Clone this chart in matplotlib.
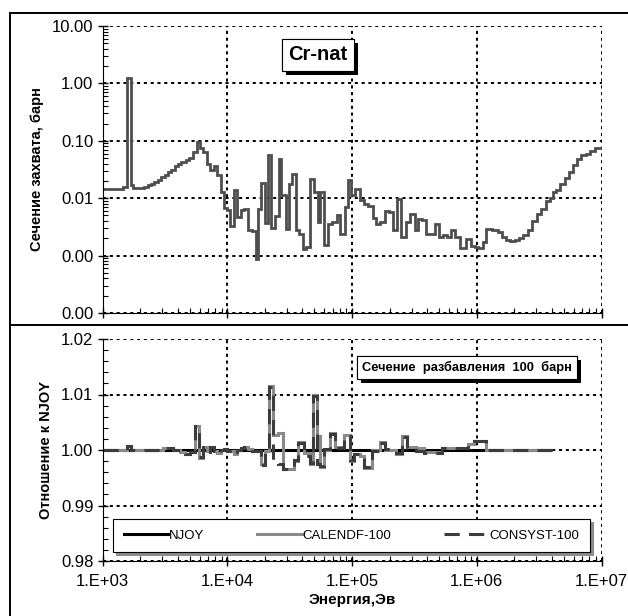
import numpy as np
import matplotlib
matplotlib.use("Agg")
import matplotlib.pyplot as plt
import matplotlib.patheffects as pe
from matplotlib.lines import Line2D
from matplotlib.patches import Rectangle
from matplotlib.ticker import FuncFormatter, LogLocator, MultipleLocator, NullFormatter

plt.rcParams['font.family'] = ['Liberation Sans', 'DejaVu Sans']

# capture cross-section, group structure (edges in eV) and group values (barn)
cs_edges = [1000, 1470, 1560, 1680, 1760, 2150, 2310, 2460, 2610, 2780, 2960, 3150, 3340,
            3560, 3780, 4030, 4280, 4630, 4930, 5340, 5680, 6040, 6420, 6830, 7260, 7820,
            8320, 8850, 9400, 10000, 10600, 11300, 11900, 12800, 13600, 14700, 15900,
            16900, 17600, 18800, 20000, 21200, 22600, 24000, 26000, 27200, 29400, 31300,
            33300, 35400, 37600, 40500, 43100, 46400, 49300, 53400, 55800, 59300, 64300,
            69600, 75900, 80700, 87400, 93000, 98900, 105000, 115000, 124000, 135000,
            146000, 157000, 169000, 183000, 198000, 213000, 230000, 249000, 269000, 294000,
            318000, 338000, 366000, 390000, 460000, 499000, 537000, 577000, 625000, 664000,
            729000, 824000, 904000, 962000, 1020000, 1120000, 1190000, 1330000, 1480000,
            1600000, 1730000, 1860000, 2010000, 2180000, 2370000, 2570000, 2790000, 3040000,
            3290000, 3560000, 3840000, 4080000, 4340000, 4670000, 5060000, 5480000, 5900000,
            6350000, 6880000, 7550000, 8130000, 8810000, 10000000]
cs_values = [0.0143, 0.0155, 1.25, 0.0173, 0.0151, 0.0157, 0.0168, 0.0180, 0.0192, 0.0208,
             0.0235, 0.0258, 0.0283, 0.0315, 0.0365, 0.0401, 0.0424, 0.0459, 0.0504, 0.0642,
             0.0957, 0.0764, 0.0642, 0.0391, 0.0307, 0.0370, 0.0258, 0.0129, 0.00676, 0.00615,
             0.00323, 0.0141, 0.00471, 0.00632, 0.00658, 0.00283, 0.00268, 0.00088, 0.00658,
             0.0184, 0.0037, 0.0561, 0.00306, 0.00483, 0.0491, 0.0112, 0.00294, 0.0180, 0.0268,
             0.00283, 0.00241, 0.00132, 0.00141, 0.0220, 0.0129, 0.00385, 0.0129, 0.00155,
             0.0036, 0.00385, 0.00503, 0.00234, 0.00703, 0.0205, 0.0112, 0.0147, 0.00919,
             0.00783, 0.00723, 0.00452, 0.0036, 0.00385, 0.00599, 0.00575, 0.00275, 0.00984,
             0.0021, 0.00385, 0.00538, 0.00275, 0.00441, 0.00411, 0.00241, 0.00351, 0.0021,
             0.00225, 0.0021, 0.00275, 0.0021, 0.00137, 0.00197, 0.00145, 0.00141, 0.00135,
             0.00172, 0.00294, 0.00283, 0.00257, 0.0021, 0.00189, 0.00177, 0.00189, 0.00202,
             0.00225, 0.00275, 0.00395, 0.00524, 0.00658, 0.00883, 0.0102, 0.0129, 0.0141,
             0.0180, 0.0229, 0.0287, 0.0375, 0.0491, 0.0561, 0.060, 0.0659, 0.0764]

# ratio to NJOY, sigma0 = 100 barn
ratio_edges = [1000, 1560, 1680, 3070, 3700, 4200, 4600, 5000, 5500, 5970, 6420, 6830, 7260,
               7820, 8320, 8850, 9400, 10000, 11300, 11900, 12800, 13600, 14700, 15900,
               18800, 20000, 21600, 23200, 25600, 28100, 34300, 37000, 41300, 46100, 48600,
               52200, 55400, 59700, 66700, 73400, 86400, 96600, 104000, 116000, 125000,
               145000, 168000, 183000, 226000, 252000, 277000, 326000, 378000, 527000,
               851000, 951000, 1190000, 4020000]
njoy_ratio = [1.0] * (len(ratio_edges) - 1)
calendf_ratio = [1.0, 1.0007, 1.0, 1.0004, 1.0, 0.9997, 0.9993, 0.9997, 1.0044, 0.9986, 1.0006,
                 0.9998, 1.0006, 0.9998, 0.9994, 1.0, 1.0002, 0.9998, 0.9993, 1.0, 1.0004,
                 1.0006, 1.0002, 0.9998, 0.9975, 0.9998, 1.0115, 1.0027, 1.0031, 0.9965,
                 0.998, 1.0015, 0.9995, 0.9975, 1.0100, 1.0025, 0.9970, 1.0, 1.0030, 1.0005,
                 1.0027, 0.998, 0.9993, 0.9990, 0.9968, 1.0, 1.0015, 1.0, 0.9993, 1.0025,
                 1.0005, 1.0003, 0.9996, 1.0004, 1.0010, 1.0017, 1.0]
consyst_ratio = [1.0, 1.0007, 1.0, 1.0004, 1.0, 0.9997, 0.9993, 0.9997, 1.0044, 0.9988, 1.0006,
                 0.9997, 1.0005, 0.9998, 0.9995, 1.0, 1.0002, 0.9998, 0.9993, 1.0, 1.0003,
                 1.0005, 1.0002, 0.9998, 0.9973, 0.9998, 1.0113, 0.9976, 0.9975, 0.9966,
                 0.9982, 1.0013, 0.9990, 0.9977, 1.0098, 0.9975, 0.9972, 1.0002, 1.0028,
                 1.0004, 1.0025, 0.9982, 0.9992, 0.9988, 0.9970, 0.9998, 1.0013, 1.0002,
                 0.9994, 1.0024, 1.0004, 0.9998, 0.9995, 1.0004, 1.0009, 1.0016, 1.0]

fig = plt.figure(figsize=(6.28, 6.16), dpi=100)
W, H = 628.0, 616.0

# outer frame and divider
fig.add_artist(Rectangle((10 / W, -0.05), 1.2, 1 - 13 / H + 0.05, transform=fig.transFigure,
                         fill=False, edgecolor='black', linewidth=1.4))
fig.add_artist(Line2D([10 / W, 1.0], [1 - 325 / H, 1 - 325 / H], transform=fig.transFigure,
                      color='black', linewidth=1.4))

ax1 = fig.add_axes([102.5 / W, 1 - 313 / H, 499 / W, 287 / H])
ax2 = fig.add_axes([102.5 / W, 1 - 561 / H, 499 / W, 222 / H])

grid_kw = dict(color='black', linestyle=(0, (1.6, 1.9)), linewidth=1.4)

def style(ax):
    ax.set_xscale('log')
    ax.set_xlim(1e3, 1e7)
    ax.spines['top'].set_visible(False)
    ax.spines['right'].set_visible(False)
    ax.grid(True, which='major', **grid_kw)
    ax.set_axisbelow(True)
    ax.tick_params(which='major', direction='inout', length=7, width=1, labelsize=12, pad=3)
    ax.tick_params(which='minor', direction='in', length=3.5, width=0.8)
    ax.xaxis.set_major_locator(LogLocator(base=10, numticks=10))
    ax.xaxis.set_minor_locator(LogLocator(base=10, subs=np.arange(2, 10), numticks=50))
    ax.xaxis.set_minor_formatter(NullFormatter())

# top panel
style(ax1)
ax1.set_yscale('log')
ax1.set_ylim(1e-4, 10)
ax1.yaxis.set_major_locator(LogLocator(base=10, numticks=10))
ax1.yaxis.set_minor_locator(LogLocator(base=10, subs=np.arange(2, 10), numticks=50))
ax1.yaxis.set_minor_formatter(NullFormatter())
ax1.yaxis.set_major_formatter(FuncFormatter(lambda v, _: f"{v:.2f}"))
ax1.xaxis.set_major_formatter(NullFormatter())
ax1.stairs(cs_values, cs_edges, baseline=None, color='#4e4e4e', linewidth=2.0)
ax1.set_ylabel('Сечение захвата, барн', fontsize=10.5, fontweight='bold', labelpad=6)
t1 = ax1.text(0.432, 0.899, 'Cr-nat', transform=ax1.transAxes, ha='center', va='center',
              fontsize=14.5, fontweight='bold',
              bbox=dict(boxstyle='square,pad=0.32', facecolor='white', edgecolor='black', lw=0.8))
t1.get_bbox_patch().set_path_effects([pe.withSimplePatchShadow(offset=(3, -3), shadow_rgbFace='black', alpha=1), pe.Normal()])

# bottom panel
style(ax2)
ax2.set_ylim(0.98, 1.02)
ax2.yaxis.set_major_locator(MultipleLocator(0.01))
ax2.yaxis.set_minor_locator(MultipleLocator(0.002))
ax2.yaxis.set_major_formatter(FuncFormatter(lambda v, _: f"{v:.2f}"))
ax2.xaxis.set_major_formatter(FuncFormatter(lambda v, _: f"1.E+{int(round(np.log10(v))):02d}"))
ax2.tick_params(axis='x', which='major', pad=6)

ax2.stairs(njoy_ratio, ratio_edges, baseline=None, color='black', linewidth=2.2)
ax2.stairs(calendf_ratio, ratio_edges, baseline=None, color='#8a8a8a', linewidth=2.2)
ax2.stairs(consyst_ratio, ratio_edges, baseline=None, color='#3c3c3c', linewidth=2.2,
           linestyle=(0, (5, 3)))

ax2.set_ylabel('Отношение к NJOY', fontsize=10.5, fontweight='bold', labelpad=6)
ax2.set_xlabel('Энергия,Эв', fontsize=11, fontweight='bold', labelpad=3)

t2 = ax2.text(0.730, 0.872, 'Сечение  разбавления  100  барн', transform=ax2.transAxes,
              ha='center', va='center', fontsize=9.3, fontweight='bold',
              bbox=dict(boxstyle='square,pad=0.4', facecolor='white', edgecolor='black', lw=0.8))
t2.get_bbox_patch().set_path_effects([pe.withSimplePatchShadow(offset=(3, -3), shadow_rgbFace='black', alpha=1), pe.Normal()])

handles = [Line2D([], [], color='black', linewidth=2.2),
           Line2D([], [], color='#8a8a8a', linewidth=2.2),
           Line2D([], [], color='#3c3c3c', linewidth=2.2, linestyle=(0, (5, 3)))]
leg = ax2.legend(handles, ['NJOY', 'CALENDF-100', 'CONSYST-100'], ncol=3, loc='lower left',
                 bbox_to_anchor=(0.021, 0.04), fontsize=9.5, borderpad=0.8,
                 handlelength=3.4, handletextpad=0.05, columnspacing=4.0, borderaxespad=0,
                 fancybox=False, edgecolor='black', framealpha=1,
                 shadow={'color': '0.55', 'alpha': 1})
leg.get_frame().set_linewidth(0.8)

fig.savefig('out.png', dpi=100)
